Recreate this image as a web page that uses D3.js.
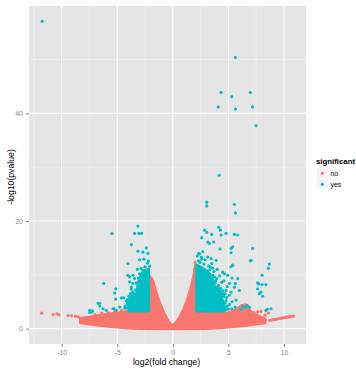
<!DOCTYPE html>
<html><head><meta charset="utf-8">
<script src="https://cdn.jsdelivr.net/npm/d3@7"></script>
<style>body{margin:0;background:#fff}svg{display:block;font-family:"Liberation Sans",Arial,sans-serif}</style>
</head><body><svg id="c" width="356" height="375"></svg>
<script>
// ---- data (log2 fold change, -log10 pvalue) ----
const xTicks = [-10, -5, 0, 5, 10];
const xMinor = [-12.5, -7.5, -2.5, 2.5, 7.5];
const yTicks = [0, 20, 40];
const yMinor = [10, 30, 50];
const groups = ["no", "yes"];
const xTitle = "log2(fold change)";
const yTitle = "-log10(pvalue)";
const legendTitle = "significant";

// dense "no" mass: upper and lower outline
const noUpper = [[-8.3,1.9],[-7.5,2.1],[-7,2.3],[-6,2.6],[-5,2.9],[-4.2,3.1],[-3.9,3.3],[-3.5,3.4],[-3,3.5],[-2.5,3.6],[-2.25,3.8],[-2.2,8.0],[-2.05,9.0],[-1.95,9.4],[-1.8,8.8],[-1.5,6.6],[-1.2,4.8],[-0.9,3.3],[-0.6,2.0],[-0.3,1.0],[0,0.5],[0.3,1.1],[0.6,2.0],[1.0,3.6],[1.3,5.2],[1.6,7.2],[1.9,9.8],[2.05,11.8],[2.15,11.4],[2.2,3.6],[2.5,3.3],[3,3.2],[4,3.0],[4.6,2.8],[5.2,3.0],[5.8,3.6],[6.2,4.3],[6.6,4.4],[6.9,3.4],[7.2,2.8],[7.8,2.2],[8.3,1.8]];
const noLower = [[-8.3,1.1],[-7,0.75],[-6,0.5],[-5,0.3],[-4,0.15],[-3,0.05],[0,0],[3,0.05],[4,0.15],[5,0.3],[6,0.5],[7,0.75],[8.3,1.1]];
// scattered "no" genes
const noPoints = [[-11.81,2.87],[-10.77,2.63],[-10.41,2.76],[-10.23,2.57],[-9.43,2.44],[-9.12,2.39],[-8.76,2.31],[-8.5,2.2],
[8.74,1.55],[8.9,1.6],[9.05,1.66],[9.2,1.72],[9.35,1.78],[9.5,1.84],[9.65,1.9],[9.8,1.96],[9.95,2.02],[10.1,2.08],[10.25,2.13],[10.4,2.18],[10.55,2.23],[10.7,2.28],[10.85,2.33],
[7.63,3.1],[7.93,3.2],[8.6,2.9],[8.3,2.5],[7.3,3.0],[7.04,2.66],
[-7.0,2.6],[-6.4,2.9],[-5.8,3.0],[-5.2,3.2],[-4.6,3.4],[-3.8,3.7],[-2.1,9.8],[1.95,11.0],[2.0,12.3]];

// dense "yes" masses (outline)
const yesLeftMass = [[-3.95,3.3],[-3.95,5.2],[-3.7,6.0],[-3.25,6.4],[-3.1,8.4],[-2.9,9.6],[-2.7,10.4],[-2.4,10.9],[-2.2,11.0],[-2.2,3.3]];
const yesRightMass = [[2.15,3.3],[2.15,11.8],[2.6,11.3],[3.1,10.6],[3.5,9.6],[3.7,7.9],[4.2,7.2],[4.4,5.6],[4.6,4.3],[4.6,3.3]];
// scattered "yes" genes
const yesPoints = [[-11.76,57.1],[5.63,50.4],[4.34,43.9],[6.97,43.9],[5.30,43.1],[4.08,41.2],[7.18,41.2],[5.63,40.8],[7.49,37.7],[4.17,28.5],[3.05,23.5],[3.05,22.8],[5.54,23.1],[5.63,21.5],
[2.85,18.3],[3.05,17.9],[3.50,17.5],[4.13,18.8],[4.28,18.3],[4.34,17.4],[4.79,17.7],[5.54,17.5],[5.84,17.4],[2.60,16.9],[3.14,16.1],[3.68,16.1],[3.29,15.8],[4.25,14.8],[5.24,14.9],[5.39,15.2],[7.18,14.9],[5.24,14.1],[6.97,12.6],[2.69,14.3],[2.33,14.0],[2.55,13.3],[3.14,13.3],[3.45,13.0],[3.90,12.7],[3.23,11.6],[3.59,11.2],[4.49,10.5],[4.64,10.2],[4.94,9.9],[5.24,11.5],[5.39,11.8],[5.84,9.3],[5.33,9.4],[5.09,8.4],[5.54,7.7],[5.63,8.4],[4.79,7.1],[4.49,6.5],[5.09,6.2],[5.24,6.8],[5.69,5.3],[5.99,7.1],[5.09,4.5],[5.33,5.0],[8.03,9.9],[7.63,8.5],[8.03,8.2],[8.38,8.2],[7.72,8.3],[7.63,7.4],[7.78,6.5],[8.08,6.0],[7.93,6.8],[8.68,12.0],[8.59,11.2],[7.04,12.7],[6.53,4.0],[6.89,4.0],[6.68,4.3],[6.14,3.6],[6.3,4.1],[8.38,3.4],[8.83,3.7],[8.5,3.6],
[2.3,12.6],[2.2,13.5],[2.45,12.3],[2.8,12.0],[3.3,10.9],[3.6,9.9],[3.8,8.5],[4.1,8.0],[4.3,7.5],[4.6,6.0],[4.8,5.2],[4.7,4.8],[4.9,4.2],[5.0,3.6],[4.75,3.9],[3.95,9.3],[4.2,9.8],[3.7,10.6],[4.4,8.6],[2.9,12.8],[3.5,12.1],[4.0,11.0],[4.6,8.9],[4.9,7.8],[5.3,3.7],[5.6,4.0],
[3.85,8.9],[4.0,7.7],[4.5,7.0],[4.7,6.5],[4.85,5.8],[4.75,3.5],[3.4,11.4],[2.6,12.9],[2.4,13.9],[3.75,9.6],[4.3,6.2],
[-3.14,19.05],[-5.48,17.7],[-3.44,17.7],[-3.05,17.7],[-2.81,17.7],[-3.73,15.6],[-2.39,15.0],[-3.14,14.4],[-2.69,14.2],[-2.24,14.0],[-2.99,12.8],[-4.04,12.1],[-2.09,11.6],[-4.04,9.9],[-3.89,9.6],[-3.59,9.9],[-3.44,9.3],[-6.22,8.4],[-3.89,8.7],[-3.59,8.4],[-3.73,7.3],[-3.73,7.7],[-5.14,7.4],[-5.23,6.6],[-5.14,5.5],[-4.63,5.7],[-4.43,5.7],[-4.18,5.1],[-3.59,5.3],[-6.58,4.7],[-6.73,4.7],[-6.58,4.2],[-6.28,3.7],[-5.39,3.7],[-5.3,3.7],[-5.08,3.4],[-4.78,4.0],[-4.3,3.8],[-5.98,3.4],[-7.48,3.4],[-7.24,3.3],[-7.48,3.0],[-7.27,3.1],
[-2.3,12.2],[-2.5,11.5],[-2.7,10.8],[-3.0,10.2],[-3.3,8.5],[-3.6,6.8],[-3.95,6.0],[-4.1,4.6],[-4.3,4.2],[-2.2,12.6],[-2.6,12.9],[-3.2,11.0],
[-3.35,7.2],[-3.5,6.5],[-3.1,9.4],[-2.85,11.2],[-4.05,5.4],[-4.15,3.9],[-3.8,6.5]];

// ---- drawing ----
const colors = {no: "#F8766D", yes: "#00BFC4"};
const svg = d3.select("#c");
const P = {l: 29, r: 306, t: 6, b: 344};

const all = [...noUpper, ...noLower, ...noPoints, ...yesLeftMass, ...yesRightMass, ...yesPoints];
const xe = d3.extent(all, d => d[0]), ye = d3.extent(all, d => d[1]);
const xp = (xe[1] - xe[0]) * 0.05, yp = (ye[1] - ye[0]) * 0.05;
const x = d3.scaleLinear().domain([xe[0] - xp, xe[1] + xp]).range([P.l, P.r]);
const y = d3.scaleLinear().domain([ye[0] - yp, ye[1] + yp]).range([P.b, P.t]);

svg.append("rect").attr("x", P.l).attr("y", P.t).attr("width", P.r - P.l).attr("height", P.b - P.t).attr("fill", "#E5E5E5");
const grid = svg.append("g");
grid.selectAll(".vm").data(xMinor).join("line").attr("x1", d => x(d)).attr("x2", d => x(d)).attr("y1", P.t).attr("y2", P.b).attr("stroke", "#F2F2F2").attr("stroke-width", 0.6);
grid.selectAll(".hm").data(yMinor).join("line").attr("y1", d => y(d)).attr("y2", d => y(d)).attr("x1", P.l).attr("x2", P.r).attr("stroke", "#F2F2F2").attr("stroke-width", 0.6);
grid.selectAll(".vM").data(xTicks).join("line").attr("x1", d => x(d)).attr("x2", d => x(d)).attr("y1", P.t).attr("y2", P.b).attr("stroke", "#fff").attr("stroke-width", 1.1);
grid.selectAll(".hM").data(yTicks).join("line").attr("y1", d => y(d)).attr("y2", d => y(d)).attr("x1", P.l).attr("x2", P.r).attr("stroke", "#fff").attr("stroke-width", 1.1);

const line = d3.line().x(d => x(d[0])).y(d => y(d[1])).curve(d3.curveLinearClosed);
const R = 1.6;
function mass(pts, col) {
  svg.append("path").attr("d", line(pts)).attr("fill", col).attr("stroke", col)
    .attr("stroke-width", 2 * R).attr("stroke-linejoin", "round");
}
mass([...noUpper, ...noLower.slice().reverse()], colors.no);
svg.append("g").selectAll("circle").data(noPoints).join("circle")
  .attr("cx", d => x(d[0])).attr("cy", d => y(d[1])).attr("r", R).attr("fill", colors.no);
mass(yesLeftMass, colors.yes);
mass(yesRightMass, colors.yes);
svg.append("g").selectAll("circle").data(yesPoints).join("circle")
  .attr("cx", d => x(d[0])).attr("cy", d => y(d[1])).attr("r", R).attr("fill", colors.yes);

// axes
const ax = svg.append("g").attr("transform", `translate(0,${P.b})`)
  .call(d3.axisBottom(x).tickValues(xTicks).tickFormat(d => String(d)).tickSize(3).tickPadding(3));
const ay = svg.append("g").attr("transform", `translate(${P.l},0)`)
  .call(d3.axisLeft(y).tickValues(yTicks).tickFormat(d => String(d)).tickSize(3).tickPadding(3.3));
[ax, ay].forEach(a => {
  a.select(".domain").remove();
  a.selectAll("line").attr("stroke", "#7F7F7F");
  a.selectAll("text").attr("fill", "#7F7F7F").attr("font-size", 6.8).attr("font-family", "Liberation Sans, Arial, sans-serif");
});

svg.append("text").attr("x", (P.l + P.r) / 2 - 1).attr("y", 364.5).attr("text-anchor", "middle")
  .attr("font-size", 8.7).attr("fill", "#000").text(xTitle);
svg.append("text").attr("transform", `translate(13.9,177) rotate(-90)`).attr("text-anchor", "middle")
  .attr("font-size", 8.7).attr("fill", "#000").text(yTitle);

// legend
const lg = svg.append("g");
lg.append("text").attr("x", 316).attr("y", 163.7).attr("font-size", 7.8).attr("font-weight", "bold").text(legendTitle);
groups.forEach((g, i) => {
  const cy = 173.3 + i * 11;
  lg.append("rect").attr("x", 316.3).attr("y", cy - 5.5).attr("width", 12).attr("height", 11).attr("fill", "#F2F2F2").attr("stroke", "#fff").attr("stroke-width", 0.5);
  lg.append("circle").attr("cx", 322.3).attr("cy", cy).attr("r", R).attr("fill", colors[g]);
  lg.append("text").attr("x", 330.5).attr("y", cy).attr("dy", "0.35em").attr("font-size", 6.8).attr("fill", "#000").text(g);
});
</script></body></html>
